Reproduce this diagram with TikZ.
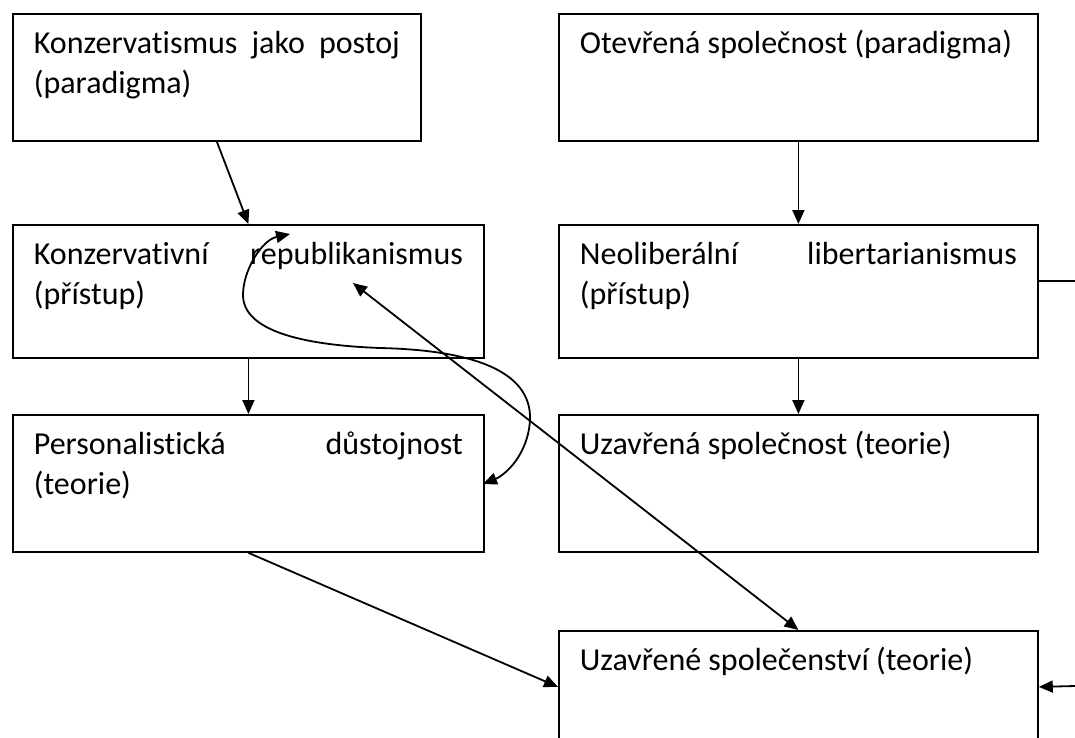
\documentclass[tikz,border=0pt]{standalone}
\usepackage{fontspec}
\setmainfont{Carlito}[Ligatures=NoCommon]
\usetikzlibrary{arrows.meta, calc}

\begin{document}
\begin{tikzpicture}[x=1pt,y=-1pt]
    \tikzset{>={Triangle[length=14pt,width=12pt]}}
    \tikzset{box/.style n args={2}{draw,line width=1.8pt,anchor=north west,align=justify,
        inner xsep=21pt,inner ysep=14pt,text width=#1,text height=26pt,text depth=#2,
        font=\fontsize{32pt}{40pt}\selectfont,
        execute at begin node={\spaceskip=0pt\xspaceskip=0pt}}}
    \tikzset{link/.style={->,line width=1.8pt}}
    \path[use as bounding box,fill=white] (0,0) rectangle (1075,737);
    \clip (0,0) rectangle (1075,737);

    % left column
    \node[box={366pt}{73pt}] (kons) at (12,13) {Konzervatismus\hfill jako\hfill postoj\\(paradigma)};
    \node[box={429pt}{79pt}] (repub) at (12,224) {Konzervativní\hfill republikanismus\\(přístup)};
    \node[box={429pt}{83pt}] (pers) at (12,414) {Personalistická\hfill důstojnost\\(teorie)};
    % right column
    \node[box={437pt}{73pt}] (otev) at (558,13) {Otevřená společnost (paradigma)};
    \node[box={437pt}{79pt}] (neol) at (558,224) {Neoliberální\hfill libertarianismus\\(přístup)};
    \node[box={437pt}{83pt}] (uzso) at (558,414) {Uzavřená společnost (teorie)};
    \node[box={437pt}{58pt}] (uzsp) at (558,630) {Uzavřené společenství (teorie)};

    \coordinate (rep) at (353,283);
    \coordinate (cs) at (290,234);
    \coordinate (ce) at (483,484);
    \coordinate (out) at (1075,281);
    \coordinate (in) at (1075,686);

    \draw[link] (kons.south) -- (repub.north);
    \draw[link] (repub.south) -- (pers.north);
    \draw[link] (otev.south) -- (neol.north);
    \draw[link] (neol.south) -- (uzso.north);
    \draw[link] (pers.south) -- (uzsp.west);
    \draw[link,<->] (rep) -- (uzsp.north);
    \draw[link,<->] (cs) .. controls (262,240) and (243,270) .. (243,295)
        .. controls (243,330) and (300,345) .. (380,348)
        .. controls (470,350) and (532,370) .. (530,420)
        .. controls (528,455) and (505,475) .. (ce);
    \draw[line width=1.8pt] (out -| neol.east) -- (out);
    \draw[link] (in) -- (uzsp.east);
\end{tikzpicture}
\end{document}
